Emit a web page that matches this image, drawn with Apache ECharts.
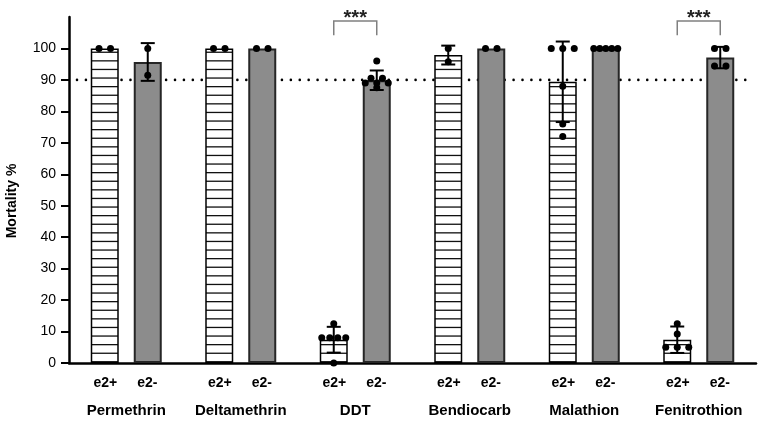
<!DOCTYPE html>
<html><head><meta charset="utf-8">
<script src="https://cdn.jsdelivr.net/npm/echarts@6/dist/echarts.min.js"></script>
<style>html,body{margin:0;padding:0;background:#fff}#c{width:762px;height:422px}</style>
</head><body><div id="c"></div>
<script>
// ---------- data ----------
const groups = ['Permethrin', 'Deltamethrin', 'DDT', 'Bendiocarb', 'Malathion', 'Fenitrothion'];
const subLabels = ['e2+', 'e2-'];
const meanPos = [100, 100, 7.4, 97.9, 89.4, 7.4];
const meanNeg = [95.7, 100, 89.9, 100, 100, 97.1];
const sdPos = [0, 0, 4.1, 3.0, 12.8, 4.2];
const sdNeg = [6.0, 0, 3.1, 0, 0, 3.4];
const ptsPos = [[100, 100], [100, 100], [12.5, 8, 8, 8, 8, 0], [100, 95.8], [100, 100, 100, 88, 76, 72], [12.5, 9.2, 5, 5, 5]];
const ptsNeg = [[100, 91.5], [100, 100], [96, 90.5, 90.5, 89, 89, 89, 87.5], [100, 100], [100, 100, 100, 100, 100], [100, 100, 94.4, 94.4]];
const threshold = 90;
const yTicks = [0, 10, 20, 30, 40, 50, 60, 70, 80, 90, 100];
const sigGroups = [2, 5];
const sigText = '***';
const sigTop = 108.7, sigLeg = 104.2;

// ---------- styles ----------
const FONT = '"Liberation Sans", Arial, Helvetica, sans-serif';
const BAR_W = 28, GAP_RATIO = 15 / 28;

function hatch() {
  const c = document.createElement('canvas');
  c.width = 8; c.height = 43;
  const ctx = c.getContext('2d');
  ctx.fillStyle = '#fff'; ctx.fillRect(0, 0, 8, 43);
  ctx.fillStyle = '#111';
  for (let k = 0; k < 5; k++) ctx.fillRect(0, k * 8.6, 8, 1.3);
  return c;
}

const chart = echarts.init(document.getElementById('c'), null, { renderer: 'canvas' });

function barOffset(sub) { return (BAR_W + BAR_W * GAP_RATIO) / 2 * (sub === 0 ? -1 : 1); }

function renderOverlay(params, api) {
  const cat = api.value(0), sub = api.value(2);
  const mean = sub === 0 ? meanPos[cat] : meanNeg[cat];
  const sd = sub === 0 ? sdPos[cat] : sdNeg[cat];
  const pts = sub === 0 ? ptsPos[cat] : ptsNeg[cat];
  const cx = api.coord([cat, 0])[0] + barOffset(sub);
  const children = [];
  const ls = { stroke: '#000', lineWidth: 2 };
  if (sd > 0) {
    const yT = api.coord([cat, mean + sd])[1], yB = api.coord([cat, mean - sd])[1];
    children.push({ type: 'line', shape: { x1: cx, y1: yT, x2: cx, y2: yB }, style: ls });
    children.push({ type: 'line', shape: { x1: cx - 7, y1: yT, x2: cx + 7, y2: yT }, style: ls });
    children.push({ type: 'line', shape: { x1: cx - 7, y1: yB, x2: cx + 7, y2: yB }, style: ls });
  }
  const sorted = pts.slice().sort((a, b) => b - a);
  const rows = [];
  sorted.forEach(v => {
    const r = rows[rows.length - 1];
    if (r && Math.abs(r[0] - v) < 0.6) r.push(v); else rows.push([v]);
  });
  rows.forEach(r => {
    const n = r.length;
    const sp = n > 1 ? Math.min(11.5, 24 / (n - 1)) : 0;
    r.forEach((v, i) => {
      const p = api.coord([cat, v]);
      children.push({ type: 'circle', shape: { cx: cx + (i - (n - 1) / 2) * sp, cy: p[1], r: 3.5 }, style: { fill: '#000' } });
    });
  });
  return { type: 'group', children };
}

function renderRef(params, api) {
  const cs = params.coordSys;
  const y = api.coord([0, api.value(1)])[1];
  return {
    type: 'line',
    shape: { x1: cs.x + 8, y1: y, x2: cs.x + cs.width - 3, y2: y },
    style: { stroke: '#000', lineWidth: 2.6, lineDash: [0.01, 8.9], lineCap: 'round' }
  };
}

function renderSig(params, api) {
  const g = api.value(0);
  const c = api.coord([g, 0])[0];
  const x1 = c + barOffset(0), x2 = c + barOffset(1);
  const yT = api.coord([g, sigTop])[1], yL = api.coord([g, sigLeg])[1];
  return {
    type: 'group', children: [
      { type: 'polyline', shape: { points: [[x1, yL], [x1, yT], [x2, yT], [x2, yL]] }, style: { stroke: '#808080', lineWidth: 1.5, fill: null } },
      { type: 'text', x: (x1 + x2) / 2, y: yT - 3, style: { text: sigText, font: 'bold 20px ' + FONT, fill: '#222', align: 'center', verticalAlign: 'middle' } }
    ]
  };
}

const overlayData = [];
groups.forEach((g, i) => { overlayData.push([i, meanPos[i], 0]); overlayData.push([i, meanNeg[i], 1]); });

chart.setOption({
  animation: false,
  backgroundColor: '#fff',
  grid: { left: 69, right: 6, top: 17, bottom: 59 },
  xAxis: {
    type: 'category', data: groups,
    axisLine: { lineStyle: { color: '#000', width: 2.5 } },
    axisTick: { show: false },
    axisLabel: {
      interval: 0, margin: 7,
      formatter: v => '{s|' + subLabels[0] + '}{s|' + subLabels[1] + '}\n{g|' + v + '}',
      rich: {
        s: { width: 42, align: 'center', fontSize: 14, fontWeight: 'bold', fontFamily: FONT, color: '#000', lineHeight: 27 },
        g: { fontSize: 15, fontWeight: 'bold', fontFamily: FONT, color: '#000', lineHeight: 27 }
      }
    }
  },
  yAxis: {
    type: 'value', min: 0, max: 110, interval: 10,
    splitLine: { show: false },
    axisLine: { show: true, lineStyle: { color: '#000', width: 2.5 } },
    axisTick: { show: true, length: 8, lineStyle: { color: '#000', width: 2 }, customValues: yTicks },
    axisLabel: { margin: 13, fontSize: 14, color: '#000', fontFamily: FONT, customValues: yTicks }
  },
  graphic: [{
    type: 'text', x: 12, y: 201, rotation: Math.PI / 2,
    style: { text: 'Mortality %', font: 'bold 14px ' + FONT, fill: '#000', align: 'center', verticalAlign: 'middle' }
  }],
  series: [
    { type: 'custom', name: 'ref', z: 1, data: [[0, threshold]], renderItem: renderRef, silent: true },
    {
      type: 'bar', name: subLabels[0], z: 2, data: meanPos, barWidth: BAR_W, barGap: (GAP_RATIO * 100) + '%',
      itemStyle: { color: { image: hatch(), repeat: 'repeat' }, borderColor: '#000', borderWidth: 1.5 }
    },
    {
      type: 'bar', name: subLabels[1], z: 2, data: meanNeg, barWidth: BAR_W,
      itemStyle: { color: '#8c8c8c', borderColor: '#262626', borderWidth: 2 }
    },
    { type: 'custom', name: 'points', z: 5, data: overlayData, encode: { x: 0, y: 1 }, renderItem: renderOverlay, clip: false },
    { type: 'custom', name: 'sig', z: 5, data: sigGroups.map(g => [g, sigTop]), encode: { x: 0, y: 1 }, renderItem: renderSig, clip: false }
  ]
});
</script>
</body></html>
